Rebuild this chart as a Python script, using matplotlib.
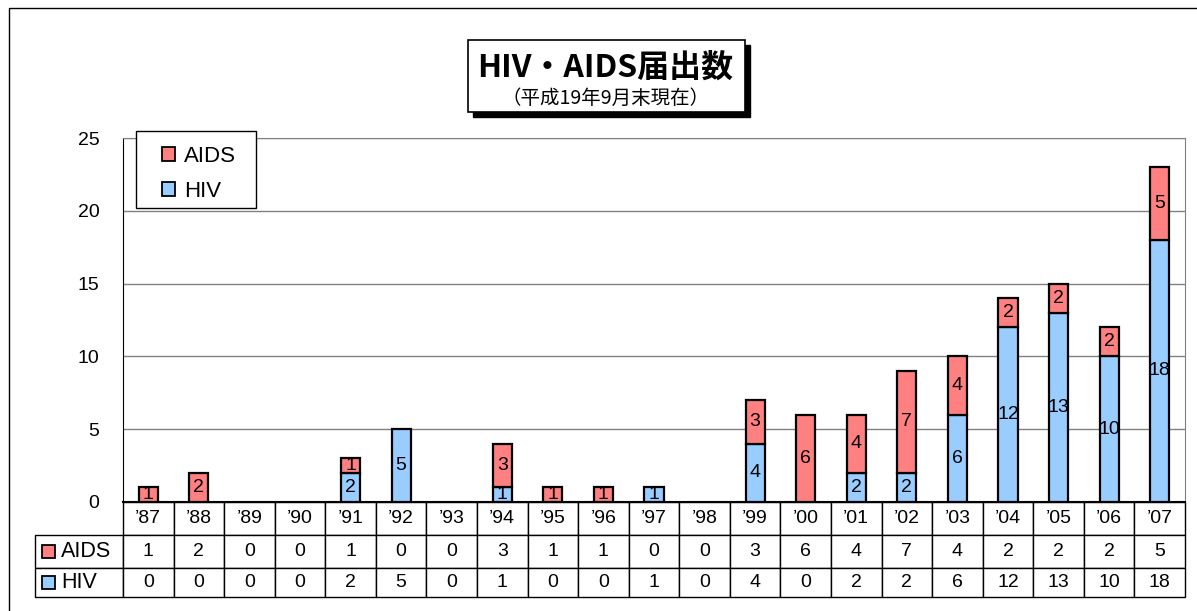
import matplotlib
matplotlib.use('Agg')
import matplotlib.pyplot as plt
from matplotlib.patches import Rectangle, Patch

plt.rcParams['font.family'] = ['Liberation Sans', 'Noto Sans CJK JP', 'DejaVu Sans']

# データ
years = ['’87', '’88', '’89', '’90', '’91', '’92', '’93', '’94', '’95', '’96', '’97',
         '’98', '’99', '’00', '’01', '’02', '’03', '’04', '’05', '’06', '’07']
aids = [1, 2, 0, 0, 1, 0, 0, 3, 1, 1, 0, 0, 3, 6, 4, 7, 4, 2, 2, 2, 5]
hiv = [0, 0, 0, 0, 2, 5, 0, 1, 0, 0, 1, 0, 4, 0, 2, 2, 6, 12, 13, 10, 18]
series_names = ['AIDS', 'HIV']
c_aids = '#FF8080'
c_hiv = '#99CCFF'

W, H = 1197, 611
fig = plt.figure(figsize=(W / 100, H / 100), dpi=100)

def fx(px):
    return px / W

def fy(py):
    return 1 - py / H

# 外枠
fig.patches.append(Rectangle((fx(9), -0.1), 1.2, fy(8) + 0.1, transform=fig.transFigure,
                             fill=False, edgecolor='black', lw=1))

ax = fig.add_axes([fx(123), fy(502), fx(1185) - fx(123), fy(138) - fy(502)])
bw = 0.38
hx = [i for i in range(len(years)) if hiv[i] > 0]
ax_ = [i for i in range(len(years)) if aids[i] > 0]
ax.bar(hx, [hiv[i] for i in hx], bw, color=c_hiv, edgecolor='black', lw=1.6, zorder=3)
ax.bar(ax_, [aids[i] for i in ax_], bw, bottom=[hiv[i] for i in ax_],
       color=c_aids, edgecolor='black', lw=1.6, zorder=3)

for i in hx:
    ax.text(i, hiv[i] / 2, str(hiv[i]), ha='center', va='center', fontsize=14, zorder=4)
for i in ax_:
    ax.text(i, hiv[i] + aids[i] / 2, str(aids[i]), ha='center', va='center', fontsize=14, zorder=4)

ax.set_xlim(-0.5, len(years) - 0.5)
ax.set_ylim(0, 25)
ax.set_yticks([0, 5, 10, 15, 20, 25])
ax.set_xticks([])
ax.tick_params(axis='y', length=0, pad=17, labelsize=14)
ax.yaxis.grid(True, color='#808080', lw=1, zorder=0)
ax.spines['left'].set_color('black')
ax.spines['bottom'].set_color('black')
ax.spines['bottom'].set_linewidth(1.5)
ax.spines['top'].set_color('#808080')
ax.spines['right'].set_color('#808080')

# データテーブル
ax_w = 1185 - 123
ax_h = 502 - 138
left = (35 - 123) / ax_w
bottom = -(597 - 502) / ax_h
rows = [[''] + years,
        [''] + [str(v) for v in aids],
        [''] + [str(v) for v in hiv]]
tbl = ax.table(cellText=rows, cellLoc='center',
               bbox=[left, bottom, 1 - left, -bottom])
tbl.auto_set_font_size(False)
tbl.set_fontsize(14)
for (r, c), cell in tbl.get_celld().items():
    cell.set_width(88 if c == 0 else ax_w / len(years))
    cell.set_height(29 if r == 2 else 33)
    cell.set_linewidth(1)
    cell.set_edgecolor('black')
tbl[0, 0].set_edgecolor('none')

# 行ラベル
row_centers = [-(551.5 - 502) / ax_h, -(582.5 - 502) / ax_h]
for name, col, yc in zip(series_names, [c_aids, c_hiv], row_centers):
    ax.add_patch(Rectangle(((42 - 123) / ax_w, yc - 6.5 / ax_h), 13 / ax_w, 13 / ax_h,
                           transform=ax.transAxes, facecolor=col, edgecolor='black',
                           lw=1.3, clip_on=False))
    ax.text((61 - 123) / ax_w, yc, name, transform=ax.transAxes, ha='left',
            va='center', fontsize=15.5)

# 凡例（枠は別に描く）
fig.patches.append(Rectangle((fx(136), fy(208)), fx(256) - fx(136), fy(131) - fy(208),
                             transform=fig.transFigure, facecolor='white',
                             edgecolor='black', lw=1, zorder=5))
handles = [Patch(facecolor=c_aids, edgecolor='black', lw=1.3, label='AIDS'),
           Patch(facecolor=c_hiv, edgecolor='black', lw=1.3, label='HIV')]
leg = fig.legend(handles=handles, loc='upper left', bbox_to_anchor=(fx(162), fy(146)),
                 borderaxespad=0, frameon=False, fontsize=16, handlelength=0.6,
                 handleheight=0.6, handletextpad=0.4, labelspacing=0.62, borderpad=0)
leg.set_zorder(6)

# タイトル
fig.patches.append(Rectangle((fx(473), fy(117)), fx(745) - fx(468), fy(40) - fy(112),
                             transform=fig.transFigure, facecolor='black', edgecolor='black'))
fig.patches.append(Rectangle((fx(468), fy(112)), fx(745) - fx(468), fy(40) - fy(112),
                             transform=fig.transFigure, facecolor='white', edgecolor='black',
                             lw=1.2))
fig.text(fx(605), fy(68), 'HIV・AIDS届出数', ha='center', va='center',
         fontsize=23, fontweight='bold', family=['Noto Sans CJK JP', 'DejaVu Sans'])
fig.text(fx(606), fy(98), '（平成19年9月末現在）', ha='center', va='center', fontsize=14,
         family=['Noto Sans CJK JP', 'DejaVu Sans'])

fig.savefig('out.png', dpi=100)
